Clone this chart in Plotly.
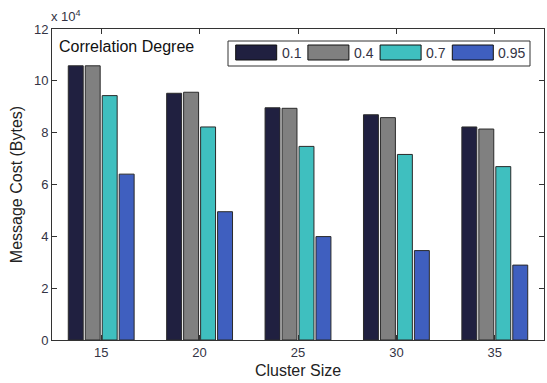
import plotly.graph_objects as go

cluster_sizes = ["15", "20", "25", "30", "35"]
series_names = ["0.1", "0.4", "0.7", "0.95"]
vals_01 = [10.58, 9.52, 8.96, 8.69, 8.22]
vals_04 = [10.58, 9.56, 8.94, 8.58, 8.14]
vals_07 = [9.43, 8.22, 7.47, 7.16, 6.69]
vals_095 = [6.40, 4.95, 3.99, 3.45, 2.89]
series_values = [vals_01, vals_04, vals_07, vals_095]
colors = ["#202040", "#808080", "#3fbfbf", "#3f5fbf"]
y_ticks = [0, 2, 4, 6, 8, 10, 12]

W, H = 547, 383
L, R, T, B = 52, 3, 29, 43
pw, ph = W - L - R, H - T - B

def px(x):
    return (x - L) / pw

def py(y):
    return (H - B - y) / ph

fig = go.Figure()
for name, vals, col in zip(series_names, series_values, colors):
    fig.add_trace(go.Bar(x=cluster_sizes, y=vals, name=name,
                         marker=dict(color=col, line=dict(color="#2a2a2a", width=1)),
                         showlegend=False))

axis_common = dict(showline=True, linecolor="#333333", linewidth=1, mirror="ticks",
                   ticks="inside", ticklen=5, tickcolor="#333333", automargin=False,
                   tickfont=dict(family="Liberation Sans, Arial", size=13, color="#333344"),
                   showgrid=False, zeroline=False)

fig.update_layout(
    width=W, height=H,
    margin=dict(l=L, r=R, t=T, b=B, autoexpand=False),
    paper_bgcolor="white", plot_bgcolor="white",
    barmode="group", bargap=0.31, bargroupgap=0.12,
    xaxis=dict(type="category", range=[-0.5, 4.5],
               title=dict(text="Cluster Size", standoff=6,
                          font=dict(family="Liberation Sans, Arial", size=16, color="#222222")),
               **axis_common),
    yaxis=dict(range=[0, 12], tickvals=y_ticks, ticktext=[str(t) for t in y_ticks],
               title=dict(text="Message Cost (Bytes)", standoff=7,
                          font=dict(family="Liberation Sans, Arial", size=16, color="#222222")),
               **axis_common),
    font=dict(family="Liberation Sans, Arial"),
)

# exponent label
fig.add_annotation(text="x 10<sup>4</sup>", xref="paper", yref="paper", x=px(49), y=py(6),
                   xanchor="left", yanchor="top", showarrow=False,
                   font=dict(size=13, color="#333344"))
# legend title-like text
fig.add_annotation(text="Correlation Degree", xref="paper", yref="paper", x=px(57), y=py(46),
                   xanchor="left", yanchor="middle", showarrow=False,
                   font=dict(size=16, color="#111111"))

# custom legend box
fig.add_shape(type="rect", xref="paper", yref="paper", x0=px(228), x1=px(530), y0=py(66), y1=py(41),
              line=dict(color="#333333", width=1), fillcolor="white")
x_start = 235.7
step = 72.2
for i, (name, col) in enumerate(zip(series_names, colors)):
    x0 = x_start + i * step
    fig.add_shape(type="rect", xref="paper", yref="paper", x0=px(x0), x1=px(x0 + 41),
                  y0=py(60), y1=py(45), line=dict(color="#111111", width=1), fillcolor=col)
    fig.add_annotation(text=name, xref="paper", yref="paper", x=px(x0 + 44), y=py(53),
                       xanchor="left", yanchor="middle", showarrow=False,
                       font=dict(size=14, color="#333344"))

fig.write_html("out.html", config={"displayModeBar": False},
               post_script="document.body.style.margin='0';document.body.style.overflow='hidden';")
